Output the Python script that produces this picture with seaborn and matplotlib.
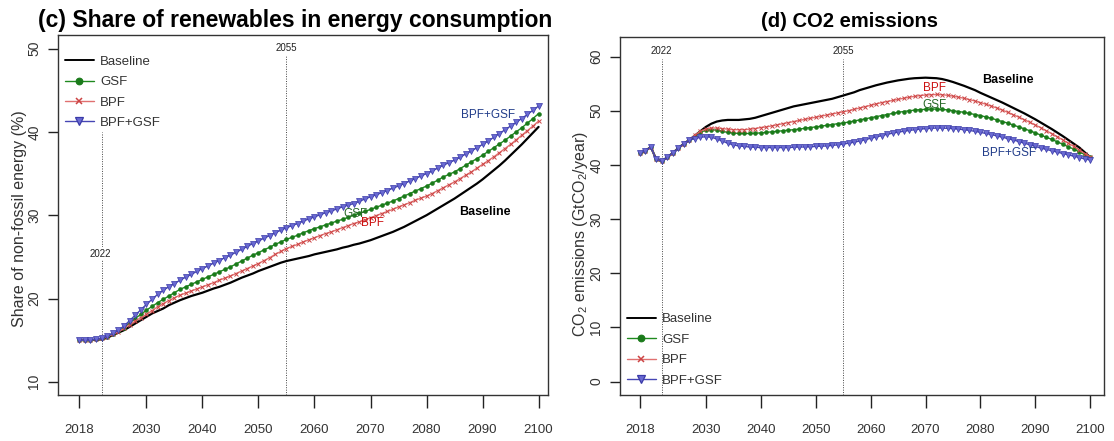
import numpy as np
import pandas as pd
import matplotlib
matplotlib.use("Agg")
import matplotlib.pyplot as plt
from matplotlib.lines import Line2D
import seaborn as sns

# ---------------- data ----------------
years = list(range(2018, 2101))

share_baseline = [
    15.0, 15.0, 15.0, 15.05, 15.1, 15.3, 15.6, 15.9, 16.2, 16.6, 17.0, 17.4,          # 2018-2029
    17.8, 18.2, 18.5, 18.8, 19.2, 19.5, 19.8, 20.05, 20.3, 20.5,                       # 2030-2039
    20.7, 20.95, 21.2, 21.4, 21.65, 21.9, 22.2, 22.5, 22.75, 23.0,                     # 2040-2049
    23.3, 23.55, 23.8, 24.05, 24.3, 24.5, 24.65, 24.8, 24.95, 25.1,                    # 2050-2059
    25.3, 25.45, 25.6, 25.75, 25.9, 26.1, 26.25, 26.45, 26.6, 26.8,                    # 2060-2069
    27.0, 27.25, 27.5, 27.75, 28.0, 28.3, 28.6, 28.95, 29.3, 29.65,                    # 2070-2079
    30.0, 30.4, 30.8, 31.2, 31.6, 32.0, 32.45, 32.9, 33.35, 33.8,                      # 2080-2089
    34.3, 34.85, 35.4, 35.95, 36.55, 37.2, 37.85, 38.5, 39.2, 39.9,                    # 2090-2099
    40.6]
share_bpf = [
    15.0, 15.0, 15.0, 15.1, 15.2, 15.4, 15.7, 16.0, 16.4, 16.85, 17.3, 17.7,
    18.1, 18.55, 19.0, 19.4, 19.75, 20.1, 20.4, 20.65, 20.9, 21.15,
    21.4, 21.65, 21.9, 22.2, 22.45, 22.7, 23.0, 23.3, 23.6, 23.9,
    24.2, 24.55, 24.9, 25.3, 25.65, 26.0, 26.25, 26.5, 26.8, 27.05,
    27.3, 27.55, 27.8, 28.0, 28.25, 28.5, 28.75, 29.0, 29.2, 29.45,
    29.7, 29.95, 30.2, 30.45, 30.7, 31.0, 31.25, 31.5, 31.8, 32.05,
    32.3, 32.6, 32.95, 33.3, 33.65, 34.0, 34.4, 34.8, 35.2, 35.65,
    36.1, 36.55, 37.0, 37.5, 38.0, 38.5, 39.05, 39.6, 40.15, 40.7,
    41.3]
share_gsf = [
    15.0, 15.0, 15.0, 15.1, 15.2, 15.4, 15.7, 16.1, 16.5, 17.05, 17.6, 18.1,
    18.6, 19.05, 19.5, 19.9, 20.3, 20.7, 21.1, 21.4, 21.7, 22.0,
    22.3, 22.6, 22.9, 23.2, 23.5, 23.8, 24.15, 24.5, 24.85, 25.2,
    25.5, 25.85, 26.15, 26.5, 26.8, 27.1, 27.35, 27.6, 27.9, 28.15,
    28.4, 28.6, 28.85, 29.05, 29.3, 29.5, 29.75, 30.0, 30.25, 30.45,
    30.7, 30.95, 31.2, 31.45, 31.7, 32.0, 32.3, 32.6, 32.9, 33.2,
    33.5, 33.85, 34.2, 34.6, 34.9, 35.2, 35.6, 36.0, 36.4, 36.8,
    37.2, 37.65, 38.1, 38.55, 39.0, 39.5, 40.0, 40.5, 41.05, 41.6,
    42.2]
share_both = [
    15.0, 15.0, 15.0, 15.1, 15.2, 15.45, 15.8, 16.2, 16.7, 17.35, 18.0, 18.65,
    19.3, 19.9, 20.5, 21.0, 21.4, 21.8, 22.2, 22.55, 22.9, 23.25,
    23.6, 23.9, 24.25, 24.55, 24.9, 25.2, 25.55, 25.9, 26.25, 26.6,
    26.9, 27.25, 27.55, 27.9, 28.2, 28.5, 28.75, 29.0, 29.3, 29.55,
    29.8, 30.05, 30.3, 30.5, 30.75, 31.0, 31.2, 31.4, 31.65, 31.95,
    32.2, 32.45, 32.7, 32.95, 33.25, 33.5, 33.8, 34.1, 34.4, 34.7,
    35.0, 35.3, 35.65, 36.0, 36.3, 36.6, 36.95, 37.35, 37.7, 38.1,
    38.5, 38.9, 39.35, 39.8, 40.25, 40.7, 41.15, 41.6, 42.1, 42.6,
    43.1]

co2_early = [42.2, 42.6, 43.3, 41.0, 40.7, 41.4, 42.2, 43.1, 43.9, 44.6]   # 2018-2027
co2_baseline = co2_early + [
    45.4, 46.2,                                                              # 2028-2029
    47.0, 47.6, 48.0, 48.2, 48.3, 48.3, 48.3, 48.4, 48.5, 48.7,             # 2030-2039
    49.0, 49.3, 49.6, 49.9, 50.2, 50.5, 50.8, 51.0, 51.2, 51.4,
    51.6, 51.8, 52.0, 52.2, 52.5, 52.8, 53.1, 53.4, 53.8, 54.1,
    54.4, 54.7, 54.95, 55.2, 55.4, 55.6, 55.75, 55.9, 56.0, 56.05,
    56.1, 56.05, 56.0, 55.85, 55.6, 55.3, 54.95, 54.6, 54.2, 53.8,
    53.3, 52.85, 52.4, 51.95, 51.5, 51.0, 50.5, 50.0, 49.5, 48.95,
    48.4, 47.8, 47.2, 46.6, 45.95, 45.3, 44.6, 43.9, 43.2, 42.3,
    41.4]
co2_bpf = co2_early + [
    45.5, 46.2,
    46.6, 46.8, 46.8, 46.7, 46.6, 46.5, 46.5, 46.5, 46.6, 46.7,
    46.9, 47.0, 47.2, 47.4, 47.6, 47.8, 48.0, 48.2, 48.4, 48.6,
    48.8, 49.0, 49.2, 49.4, 49.6, 49.8, 50.0, 50.25, 50.5, 50.75,
    51.0, 51.25, 51.5, 51.7, 51.9, 52.1, 52.3, 52.5, 52.65, 52.8,
    52.9, 52.95, 53.0, 52.95, 52.85, 52.7, 52.5, 52.3, 52.05, 51.8,
    51.5, 51.2, 50.85, 50.5, 50.1, 49.7, 49.25, 48.8, 48.35, 47.85,
    47.35, 46.85, 46.3, 45.75, 45.2, 44.6, 44.0, 43.4, 42.75, 42.1,
    41.5]
co2_gsf = co2_early + [
    45.3, 46.0,
    46.4, 46.5, 46.4, 46.2, 46.0, 45.9, 45.8, 45.8, 45.8, 45.85,
    45.9, 46.0, 46.1, 46.2, 46.3, 46.4, 46.5, 46.6, 46.75, 46.9,
    47.0, 47.15, 47.3, 47.45, 47.6, 47.75, 47.9, 48.1, 48.3, 48.5,
    48.7, 48.9, 49.1, 49.3, 49.5, 49.7, 49.85, 50.0, 50.1, 50.2,
    50.25, 50.3, 50.3, 50.25, 50.15, 50.0, 49.85, 49.7, 49.5, 49.3,
    49.1, 48.85, 48.6, 48.3, 48.0, 47.7, 47.35, 47.0, 46.65, 46.3,
    45.9, 45.5, 45.1, 44.7, 44.25, 43.8, 43.35, 42.9, 42.4, 41.9,
    41.4]
co2_both = co2_early + [
    44.8, 45.1,
    45.2, 45.1, 44.8, 44.4, 44.0, 43.7, 43.5, 43.4, 43.3, 43.25,
    43.2, 43.2, 43.2, 43.2, 43.2, 43.2, 43.25, 43.3, 43.3, 43.35,
    43.4, 43.45, 43.5, 43.6, 43.7, 43.85, 44.0, 44.2, 44.4, 44.65,
    44.9, 45.15, 45.4, 45.65, 45.85, 46.05, 46.2, 46.35, 46.5, 46.6,
    46.7, 46.75, 46.8, 46.8, 46.75, 46.7, 46.6, 46.5, 46.35, 46.2,
    46.0, 45.8, 45.6, 45.35, 45.1, 44.85, 44.6, 44.3, 44.0, 43.7,
    43.4, 43.1, 42.85, 42.6, 42.35, 42.1, 41.85, 41.6, 41.35, 41.1,
    40.9]

scenarios = ["Baseline", "GSF", "BPF", "BPF+GSF"]
xticks = [2018, 2030, 2040, 2050, 2060, 2070, 2080, 2090, 2100]
share_yticks = [10, 20, 30, 40, 50]
co2_yticks = [0, 10, 20, 30, 40, 50, 60]
milestones = [2022, 2055]

# ---------------- style ----------------
sns.set_theme(style="ticks")
plt.rcParams["font.family"] = ["Liberation Sans", "DejaVu Sans"]
plt.rcParams["mathtext.default"] = "regular"

styles = {
    "Baseline": dict(color="black", marker=None, lw=1.6, ms=0, mfc="black", mec="black", mew=0),
    "GSF": dict(color="#1f8a1f", marker="o", lw=1.0, ms=2.8, mfc="#1a7a1a", mec="#1a7a1a", mew=0.4),
    "BPF": dict(color="#e07070", marker="x", lw=1.0, ms=3.0, mfc="#cc3333", mec="#cc4444", mew=0.7),
    "BPF+GSF": dict(color="#4646b4", marker="v", lw=1.0, ms=3.9, mfc="#6a6ad2", mec="#3a3aa8", mew=0.5),
}
label_colors = {"Baseline": "black", "GSF": "#2a6a2a", "BPF": "#cc1111", "BPF+GSF": "#223d8a"}
tick_color = "#333333"

fig = plt.figure(figsize=(11.14, 4.41), dpi=100)
axL = fig.add_axes([0.052, 0.104, 0.440, 0.816])
axR = fig.add_axes([0.5566, 0.104, 0.4345, 0.812])


def draw(ax, series):
    for name in scenarios:
        st = styles[name]
        sns.lineplot(x=years, y=series[name], ax=ax, color=st["color"], lw=st["lw"],
                     marker=st["marker"], markersize=st["ms"], markerfacecolor=st["mfc"],
                     markeredgecolor=st["mec"], markeredgewidth=st["mew"], legend=False,
                     zorder=3)


draw(axL, {"Baseline": share_baseline, "GSF": share_gsf, "BPF": share_bpf, "BPF+GSF": share_both})
draw(axR, {"Baseline": co2_baseline, "GSF": co2_gsf, "BPF": co2_bpf, "BPF+GSF": co2_both})

for ax, xl, yl, yt in [(axL, (2014.2, 2101.7), (8.4, 51.6), share_yticks),
                       (axR, (2014.4, 2102.5), (-2.5, 63.6), co2_yticks)]:
    ax.set_xlim(*xl)
    ax.set_ylim(*yl)
    ax.set_xticks(xticks)
    ax.set_yticks(yt)
    ax.tick_params(axis="x", length=9, width=1.0, pad=12, labelsize=9.5, colors="#222222",
                   labelcolor=tick_color)
    ax.tick_params(axis="y", length=7, width=1.0, pad=5, labelsize=10, colors="#222222",
                   labelcolor=tick_color)
    for lab in ax.get_yticklabels():
        lab.set_rotation(90)
        lab.set_va("center")
    for sp in ax.spines.values():
        sp.set_visible(True)
        sp.set_linewidth(1.0)
        sp.set_color("#333333")
    ax.set_xlabel("")

# milestone lines
ms_kw = dict(color="#444444", lw=0.7, ls=(0, (1, 1.5)), zorder=1)
axL.plot([milestones[0]] * 2, [8.4, 40.0], **ms_kw)
axL.plot([milestones[1]] * 2, [8.4, 49.2], **ms_kw)
axR.plot([milestones[0]] * 2, [-2.5, 59.5], **ms_kw)
axR.plot([milestones[1]] * 2, [-2.5, 59.5], **ms_kw)
lab_kw = dict(fontsize=7, ha="center", va="center", color="#222222",
              bbox=dict(facecolor="white", edgecolor="none", pad=1.0), zorder=2)
axL.text(milestones[0] - 0.3, 25.4, str(milestones[0]), **lab_kw)
axL.text(milestones[1], 50.1, str(milestones[1]), **lab_kw)
axR.text(milestones[0], 61.0, str(milestones[0]), **lab_kw)
axR.text(milestones[1], 61.0, str(milestones[1]), **lab_kw)

# titles and labels
axL.set_title("(c) Share of renewables in energy consumption", fontsize=16.5, fontweight="bold",
              x=0.484, pad=6, color="black")
axR.set_title("(d) CO2 emissions", fontsize=14.5, fontweight="bold", x=0.475, pad=7, color="black")
axL.set_ylabel("Share of non-fossil energy (%)", fontsize=11.5, color="#333333")
axR.set_ylabel("CO$_2$ emissions (GtCO$_2$/year)", fontsize=11.5, color="#333333")
axL.yaxis.set_label_coords(-0.064, 0.49)
axR.yaxis.set_label_coords(-0.062, 0.45)

# in-plot labels
axL.text(2091.0, 42.0, "BPF+GSF", fontsize=8.5, color=label_colors["BPF+GSF"], ha="center", va="center")
axL.text(2090.5, 30.4, "Baseline", fontsize=9, fontweight="bold", color="black", ha="center", va="center")
axL.text(2067.3, 30.1, "GSF", fontsize=8.5, color=label_colors["GSF"], ha="center", va="center", zorder=5)
axL.text(2070.3, 29.1, "BPF", fontsize=8.5, color=label_colors["BPF"], ha="center", va="center", zorder=5)

axR.text(2085.0, 55.7, "Baseline", fontsize=9, fontweight="bold", color="black", ha="center", va="center")
axR.text(2071.6, 54.2, "BPF", fontsize=8.5, color=label_colors["BPF"], ha="center", va="center", zorder=5)
axR.text(2071.6, 51.1, "GSF", fontsize=8.5, color=label_colors["GSF"], ha="center", va="center", zorder=5)
axR.text(2085.2, 42.2, "BPF+GSF", fontsize=8.5, color=label_colors["BPF+GSF"], ha="center", va="center")

# legends
def handles():
    hs = []
    for name in scenarios:
        st = styles[name]
        hs.append(Line2D([0], [0], color=st["color"], lw=st["lw"] if name != "Baseline" else 1.4,
                         marker=st["marker"], markersize=st["ms"] + 2.0, markerfacecolor=st["mfc"],
                         markeredgecolor=st["mec"], markeredgewidth=st["mew"] + 0.4))
    return hs

leg_kw = dict(frameon=False, fontsize=9.5, handlelength=2.2, handletextpad=0.5,
              labelspacing=0.62, borderpad=0.2, borderaxespad=0.3, labelcolor="#333333")
axL.legend(handles(), scenarios, loc="upper left", bbox_to_anchor=(0.0, 0.962), **leg_kw)
axR.legend(handles(), scenarios, loc="lower left", bbox_to_anchor=(0.0, 0.005), **leg_kw)

fig.savefig("out.png", dpi=100)
